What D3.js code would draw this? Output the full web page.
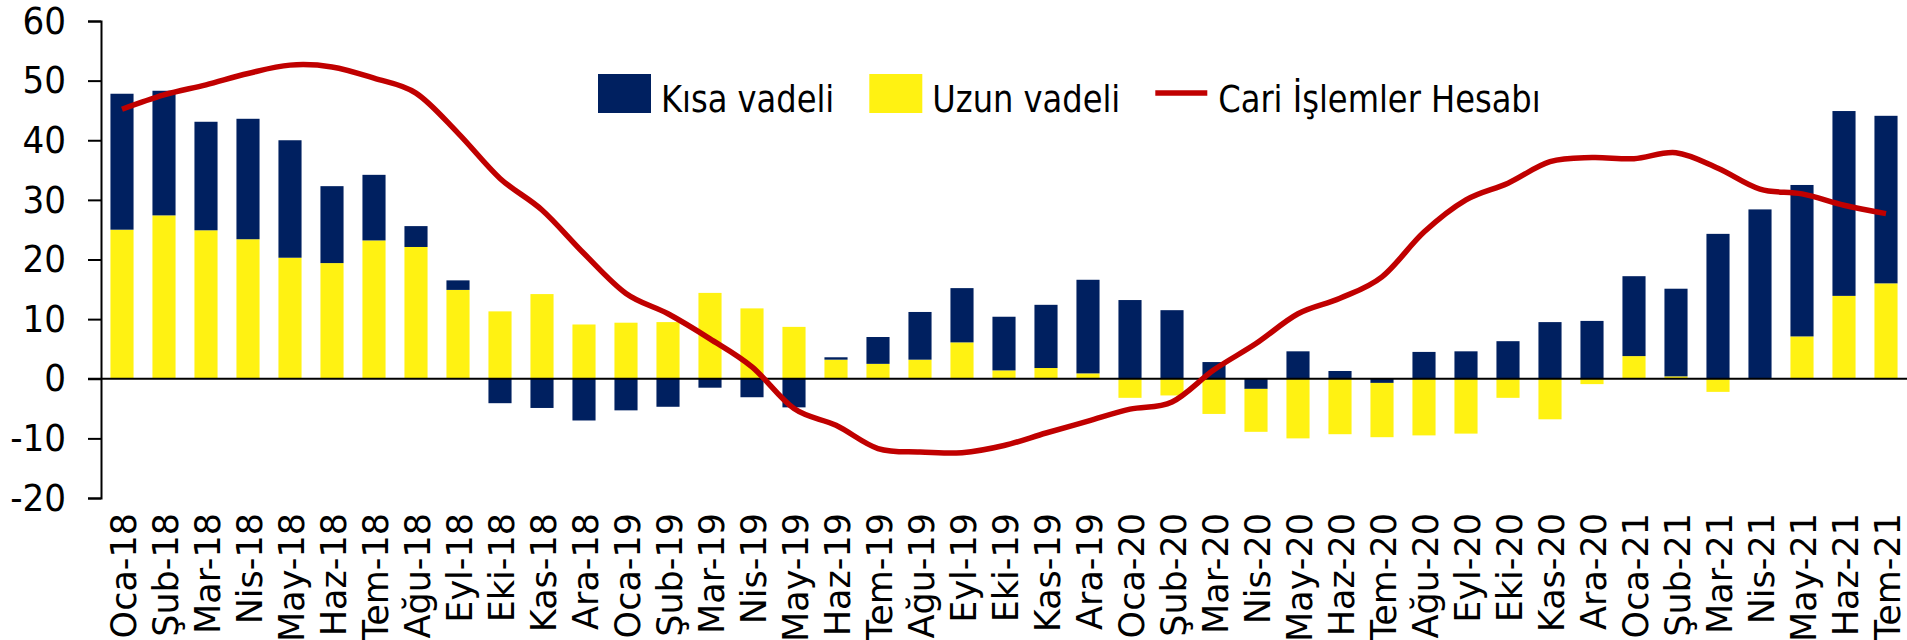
<!DOCTYPE html>
<html>
<head>
<meta charset="utf-8">
<script src="https://cdn.jsdelivr.net/npm/d3@7"></script>
<style>
  body { margin: 0; background: #fff; }
  text { fill: #000; }
</style>
</head>
<body>
<div id="chart"></div>
<script>
// months on the x axis
var months = ["Oca-18","Şub-18","Mar-18","Nis-18","May-18","Haz-18","Tem-18","Ağu-18","Eyl-18","Eki-18","Kas-18","Ara-18",
  "Oca-19","Şub-19","Mar-19","Nis-19","May-19","Haz-19","Tem-19","Ağu-19","Eyl-19","Eki-19","Kas-19","Ara-19",
  "Oca-20","Şub-20","Mar-20","Nis-20","May-20","Haz-20","Tem-20","Ağu-20","Eyl-20","Eki-20","Kas-20","Ara-20",
  "Oca-21","Şub-21","Mar-21","Nis-21","May-21","Haz-21","Tem-21"];

// short term flows
var kisa = [22.8, 20.9, 18.2, 20.2, 19.7, 12.9, 11.0, 3.5, 1.6, -4.1, -4.9, -7.0,
  -5.3, -4.7, -1.5, -3.1, -4.8, 0.4, 4.5, 8.0, 9.1, 9.0, 10.6, 15.7,
  13.2, 11.5, 2.8, -1.7, 4.6, 1.3, -0.7, 4.5, 4.6, 6.3, 9.5, 9.7,
  13.4, 14.7, 24.3, 28.4, 25.4, 31.0, 28.1];

// long term flows
var uzun = [25.0, 27.4, 24.9, 23.4, 20.3, 19.4, 23.2, 22.1, 14.9, 11.3, 14.2, 9.1,
  9.4, 9.5, 14.4, 11.8, 8.7, 3.2, 2.5, 3.2, 6.1, 1.4, 1.8, 0.9,
  -3.2, -2.8, -5.9, -7.2, -10.0, -9.3, -9.1, -9.5, -9.2, -3.2, -6.8, -0.9,
  3.8, 0.4, -2.2, 0.0, 7.1, 13.9, 16.0];

// current account
var cari = [45.2, 47.6, 49.3, 51.2, 52.6, 52.3, 50.4, 47.9, 41.2, 33.6, 28.3, 21.0,
  14.3, 10.9, 6.7, 2.0, -5.0, -7.8, -11.7, -12.3, -12.4, -11.2, -9.1, -7.1,
  -5.1, -3.9, 1.5, 5.9, 10.9, 13.5, 17.1, 24.6, 30.0, 32.8, 36.4, 37.1,
  36.9, 37.9, 35.3, 31.8, 31.0, 29.1, 27.7];

var yTicks = [-20, -10, 0, 10, 20, 30, 40, 50, 60];

var colors = { kisa: "#002060", uzun: "#fff212", cari: "#c00000" };

var svgWidth = 1907;
var svgHeight = 640;

var svg = d3.select("#chart")
  .append("svg")
  .attr("width", svgWidth)
  .attr("height", svgHeight)
  .style("display", "block");

// scales
var xScale = d3.scaleBand()
  .domain(months)
  .range([101, 1907])
  .paddingInner(0.45)
  .paddingOuter(0.225);

var yScale = d3.scaleLinear()
  .domain([-20, 60])
  .range([498, 21]);

// stacked segments: positives stack uzun then kisa, negatives stack kisa then uzun
var segments = [];
months.forEach(function(m, i) {
  var pos = 0, neg = 0;
  [["uzun", uzun[i]], ["kisa", kisa[i]]].forEach(function(s) {
    if (s[1] > 0) { segments.push({ m: m, key: s[0], y0: pos, y1: pos + s[1] }); pos += s[1]; }
  });
  [["kisa", kisa[i]], ["uzun", uzun[i]]].forEach(function(s) {
    if (s[1] < 0) { segments.push({ m: m, key: s[0], y0: neg, y1: neg + s[1] }); neg += s[1]; }
  });
});

svg.append("g")
  .selectAll("rect")
  .data(segments)
  .enter()
  .append("rect")
  .attr("x", d => xScale(d.m))
  .attr("width", xScale.bandwidth())
  .attr("y", d => yScale(Math.max(d.y0, d.y1)))
  .attr("height", d => Math.abs(yScale(d.y0) - yScale(d.y1)))
  .attr("fill", d => colors[d.key]);

// y axis (plain hyphen for negatives)
var yAxis = svg.append("g")
  .attr("transform", "translate(101,0)")
  .call(d3.axisLeft(yScale).tickValues(yTicks).tickFormat(d => String(d)).tickSize(13).tickPadding(22));

yAxis.select(".domain").attr("stroke", "#000").attr("stroke-width", 2);
yAxis.selectAll(".tick line").attr("stroke", "#000").attr("stroke-width", 2);
yAxis.selectAll(".tick text")
  .style("font-family", "'DejaVu Sans Condensed', 'DejaVu Sans', sans-serif")
  .style("font-size", "38px")
  .attr("fill", "#000");

// zero line
svg.append("line")
  .attr("x1", 88)
  .attr("x2", 1907)
  .attr("y1", yScale(0))
  .attr("y2", yScale(0))
  .attr("stroke", "#000")
  .attr("stroke-width", 2);

// x labels, rotated
svg.append("g")
  .selectAll("text")
  .data(months)
  .enter()
  .append("text")
  .attr("transform", d => `translate(${xScale(d) + xScale.bandwidth() / 2 + 14}, 513) rotate(-90)`)
  .attr("text-anchor", "end")
  .style("font-family", "'DejaVu Sans', sans-serif")
  .style("font-size", "35px")
  .text(d => d);

// current account line
var line = d3.line()
  .x((d, i) => xScale(months[i]) + xScale.bandwidth() / 2)
  .y(d => yScale(d))
  .curve(d3.curveCatmullRom.alpha(0));

svg.append("path")
  .datum(cari)
  .attr("d", line)
  .attr("fill", "none")
  .attr("stroke", colors.cari)
  .attr("stroke-width", 5.5);

// legend
var legendItems = [
  { label: "Kısa vadeli", key: "kisa", type: "rect" },
  { label: "Uzun vadeli", key: "uzun", type: "rect" },
  { label: "Cari İşlemler Hesabı", key: "cari", type: "line" }
];

var legend = svg.append("g");
var lx = 598;
var squeeze = 0.94;
legendItems.forEach(function(item) {
  if (item.type === "rect") {
    legend.append("rect")
      .attr("x", lx).attr("y", 74)
      .attr("width", 53).attr("height", 39)
      .attr("fill", colors[item.key]);
  } else {
    legend.append("line")
      .attr("x1", lx).attr("x2", lx + 52)
      .attr("y1", 93).attr("y2", 93)
      .attr("stroke", colors[item.key])
      .attr("stroke-width", 5.5);
  }
  var t = legend.append("text")
    .attr("transform", `translate(${lx + 63}, 112) scale(${squeeze}, 1)`)
    .style("font-family", "'DejaVu Sans Condensed', 'DejaVu Sans', sans-serif")
    .style("font-size", "38px")
    .text(item.label);
  lx = lx + 63 + t.node().getComputedTextLength() * squeeze + 35;
});
</script>
</body>
</html>
